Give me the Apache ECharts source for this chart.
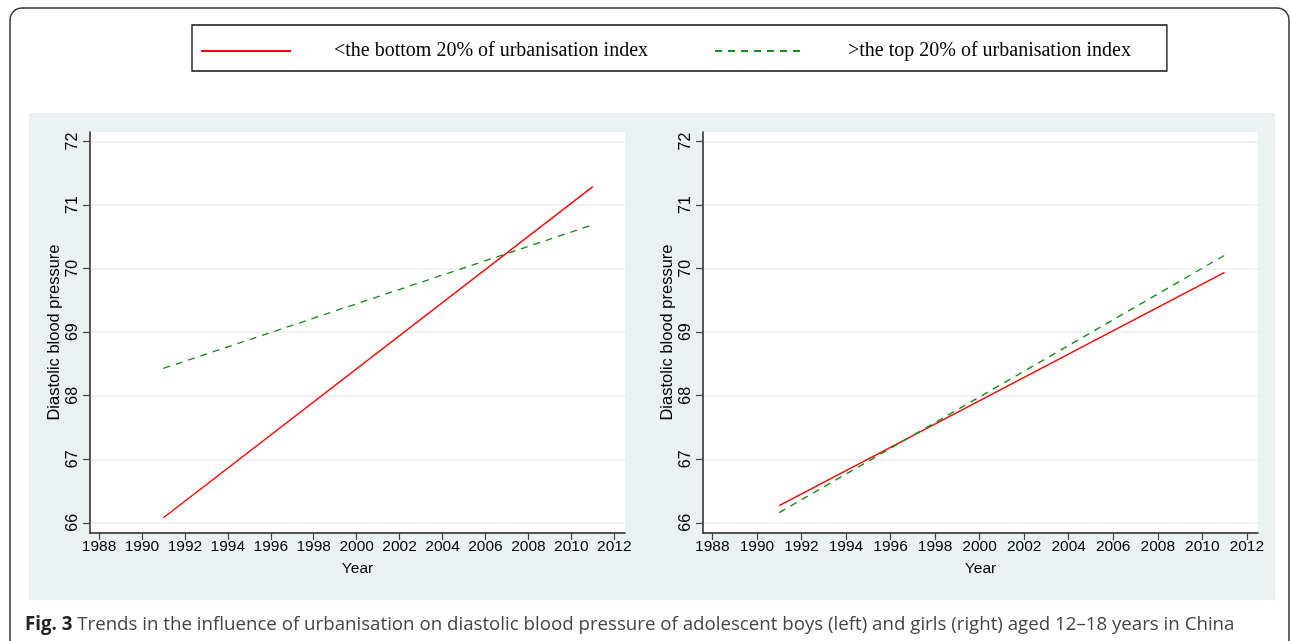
<!DOCTYPE html>
<html>
<head>
<meta charset="utf-8">
<script src="https://cdn.jsdelivr.net/npm/echarts@6/dist/echarts.min.js"></script>
<style>html,body{margin:0;padding:0;background:#fff}#c{width:1290px;height:641px}</style>
</head>
<body>
<div id="c"></div>
<script>
// Data
const seriesNames = ['<the bottom 20% of urbanisation index', '>the top 20% of urbanisation index'];
const years = [1991, 2011];
const boysBottom = [66.08, 71.29];
const boysTop = [68.43, 70.69];
const girlsBottom = [66.27, 69.94];
const girlsTop = [66.16, 70.21];
const xTicks = [1988, 1990, 1992, 1994, 1996, 1998, 2000, 2002, 2004, 2006, 2008, 2010, 2012];
const yTicks = [66, 67, 68, 69, 70, 71, 72];
const caption = 'Trends in the influence of urbanisation on diastolic blood pressure of adolescent boys (left) and girls (right) aged 12\u201318 years in China';

const chart = echarts.init(document.getElementById('c'), null, {renderer: 'canvas'});
const axisFont = 'Liberation Sans, Arial, sans-serif';

function xAxis(gi) {
  return {
    type: 'value', gridIndex: gi, min: 1987.58, max: 2012.5,
    name: 'Year', nameLocation: 'middle', nameGap: 28,
    nameTextStyle: {fontFamily: axisFont, fontSize: 15.5, color: '#000'},
    axisLine: {show: true, lineStyle: {color: '#222', width: 1.5}},
    axisTick: {show: true, length: 7, lineStyle: {color: '#444', width: 1.2}, customValues: xTicks},
    axisLabel: {fontFamily: axisFont, fontSize: 15.5, color: '#000', margin: 6, customValues: xTicks,
      formatter: v => String(v)},
    splitLine: {show: false}
  };
}
function yAxis(gi) {
  return {
    type: 'value', gridIndex: gi, min: 65.84, max: 72.15,
    name: 'Diastolic blood pressure', nameLocation: 'middle', nameGap: 27, nameRotate: 90,
    nameTextStyle: {fontFamily: axisFont, fontSize: 16.5, color: '#000'},
    axisLine: {show: true, lineStyle: {color: '#222', width: 1.5}},
    axisTick: {show: true, length: 7, lineStyle: {color: '#444', width: 1.2}, customValues: yTicks},
    axisLabel: {fontFamily: axisFont, fontSize: 16, color: '#000', margin: 9, rotate: 90, customValues: yTicks,
      formatter: v => String(v)},
    splitLine: {show: true, lineStyle: {color: '#e8eef0', width: 1.5}}
  };
}
function pairs(xs, ys) { return xs.map((x, i) => [x, ys[i]]); }
function line(name, gi, data, green) {
  return {
    type: 'line', name: name, xAxisIndex: gi, yAxisIndex: gi, data: pairs(years, data),
    showSymbol: false, symbol: 'none', silent: true,
    lineStyle: green ? {color: '#1a8c1a', width: 1.4, type: [7, 6]} : {color: '#ff0000', width: 1.4},
    itemStyle: {color: green ? '#1a8c1a' : '#ff0000'}
  };
}

chart.setOption({
  animation: false,
  backgroundColor: '#fff',
  graphic: [
    {type: 'rect', z: -10, shape: {x: 10, y: 8, width: 1279, height: 700, r: 12},
     style: {fill: 'none', stroke: '#333', lineWidth: 1.5}},
    {type: 'rect', z: -9, shape: {x: 29, y: 113, width: 1246, height: 487},
     style: {fill: '#eaf1f3'}}
  ],
  title: {
    left: 20, top: 610,
    text: '{b|Fig. 3} ' + caption,
    textStyle: {
      fontFamily: 'Open Sans, Noto Sans, sans-serif', fontSize: 18.7, fontWeight: 'normal', color: '#444',
      rich: {b: {fontFamily: 'Open Sans, Noto Sans, sans-serif', fontSize: 18.7, fontWeight: 'bold', color: '#222'}}
    }
  },
  legend: {
    left: 192, top: 25,
    data: seriesNames,
    padding: [16, 36, 10, 8],
    itemGap: 66, itemWidth: 90, itemHeight: 14,
    itemStyle: {opacity: 0, borderWidth: 0},
    borderColor: '#111', borderWidth: 1.3, backgroundColor: '#fff',
    textStyle: {fontFamily: 'Liberation Serif, Times New Roman, serif', fontSize: 20, color: '#000', padding: [0, 0, 0, 38]},
    selectedMode: false
  },
  grid: [
    {left: 90, top: 132, width: 535, height: 401, show: true, backgroundColor: '#fff', borderWidth: 0},
    {left: 703, top: 132, width: 555, height: 401, show: true, backgroundColor: '#fff', borderWidth: 0}
  ],
  xAxis: [xAxis(0), xAxis(1)],
  yAxis: [yAxis(0), yAxis(1)],
  series: [
    line(seriesNames[0], 0, boysBottom, false),
    line(seriesNames[1], 0, boysTop, true),
    line(seriesNames[0], 1, girlsBottom, false),
    line(seriesNames[1], 1, girlsTop, true)
  ]
});
</script>
</body>
</html>
